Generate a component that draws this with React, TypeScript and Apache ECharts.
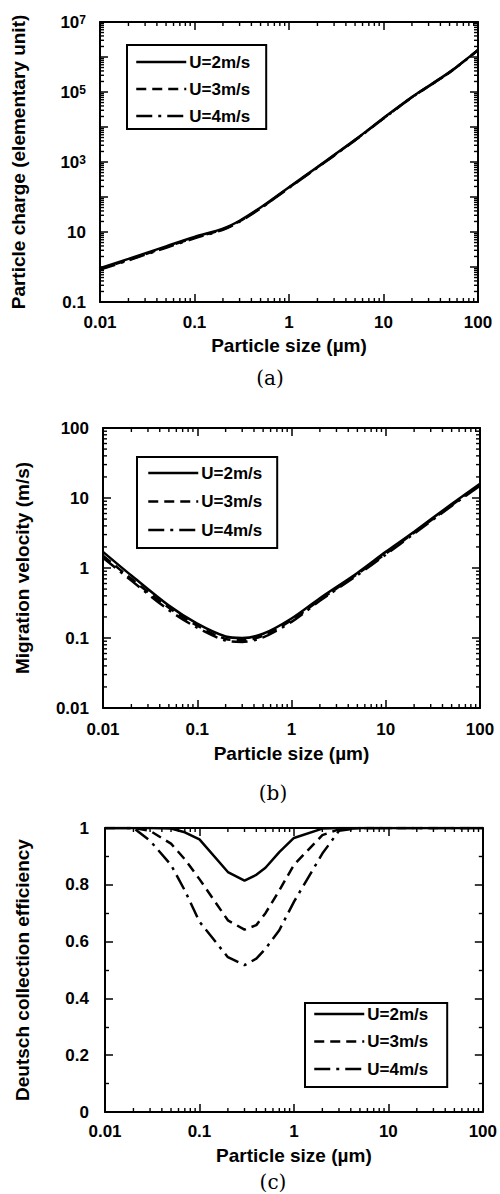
import React, { useEffect, useRef } from 'react';
import * as echarts from 'echarts';

const SERIES_NAMES = ['U=2m/s', 'U=3m/s', 'U=4m/s'];

// (a) particle charge
const sizeA = [0.01, 0.02, 0.05, 0.1, 0.2, 0.3, 0.5, 0.7, 1, 2, 5, 10, 20, 50, 100];
const chargeU2 = [0.93, 1.7, 3.9, 7.2, 12.5, 21, 50, 95, 190, 720, 4300, 18000, 72000, 370000, 1600000];
const chargeU3 = [0.88, 1.6, 3.7, 6.9, 12, 20.3, 48.5, 92, 186, 705, 4220, 17700, 71000, 365000, 1580000];
const chargeU4 = [0.84, 1.55, 3.55, 6.6, 11.6, 19.7, 47, 90, 182, 690, 4150, 17400, 70000, 360000, 1560000];

// (b) migration velocity
const sizeB = [0.01, 0.02, 0.05, 0.1, 0.2, 0.3, 0.5, 1, 2, 5, 10, 20, 50, 100];
const velocityU2 = [1.7, 0.78, 0.29, 0.16, 0.105, 0.1, 0.115, 0.19, 0.37, 0.85, 1.7, 3.3, 8.2, 16];
const velocityU3 = [1.5, 0.7, 0.27, 0.15, 0.097, 0.093, 0.108, 0.18, 0.35, 0.82, 1.6, 3.2, 7.9, 15.5];
const velocityU4 = [1.4, 0.66, 0.25, 0.14, 0.092, 0.088, 0.102, 0.17, 0.34, 0.79, 1.55, 3.1, 7.7, 15];

// (c) Deutsch collection efficiency
const sizeC = [0.01, 0.02, 0.03, 0.05, 0.07, 0.1, 0.2, 0.3, 0.4, 0.5, 0.7, 1, 2, 3, 5, 10, 20, 50, 100];
const effU2 = [1, 1, 1, 0.998, 0.985, 0.96, 0.845, 0.815, 0.835, 0.86, 0.915, 0.965, 0.998, 1, 1, 1, 1, 1, 1];
const effU3 = [1, 1, 0.99, 0.945, 0.89, 0.82, 0.675, 0.642, 0.658, 0.7, 0.78, 0.87, 0.975, 0.995, 1, 1, 1, 1, 1];
const effU4 = [1, 1, 0.955, 0.87, 0.78, 0.67, 0.545, 0.517, 0.54, 0.575, 0.64, 0.74, 0.91, 0.99, 1, 1, 1, 1, 1];

const xTickLabels = ['0.01', '0.1', '1', '10', '100'];
const yTickLabelsB = ['0.01', '0.1', '1', '10', '100'];
const captions = ['(a)', '(b)', '(c)'];

const SANS = '"Liberation Sans", Arial, Helvetica, sans-serif';
const SERIF = '"DejaVu Serif", "Liberation Serif", serif';
const DASHES: any[] = ['solid', [10, 6], [16, 6, 3, 6]];

function minorLogValues(minExp: number, maxExp: number) {
  const out: number[] = [];
  for (let e = minExp; e < maxExp; e++) {
    for (let m = 2; m <= 9; m++) out.push(m * Math.pow(10, e));
  }
  return out;
}

function xMinorSeries(grid: number, vals: number[], yMin: number, yMax: number) {
  return {
    type: 'custom',
    name: 'xminor' + grid,
    xAxisIndex: grid * 2,
    yAxisIndex: grid * 2,
    silent: true,
    clip: false,
    z: 5,
    data: vals.map((v) => [v, yMin]),
    encode: { x: 0, y: 1 },
    renderItem: (params: any, api: any) => {
      const v = api.value(0);
      const b = api.coord([v, yMin]);
      const t = api.coord([v, yMax]);
      const st = { stroke: '#000', lineWidth: 1.4 };
      return {
        type: 'group',
        children: [
          { type: 'line', shape: { x1: b[0], y1: b[1], x2: b[0], y2: b[1] - 4 }, style: st },
          { type: 'line', shape: { x1: t[0], y1: t[1], x2: t[0], y2: t[1] + 4 }, style: st },
        ],
      };
    },
  };
}

function yMinorSeries(grid: number, vals: number[], xMin: number, xMax: number) {
  return {
    type: 'custom',
    name: 'yminor' + grid,
    xAxisIndex: grid * 2,
    yAxisIndex: grid * 2,
    silent: true,
    clip: false,
    z: 5,
    data: vals.map((v) => [xMin, v]),
    encode: { x: 0, y: 1 },
    renderItem: (params: any, api: any) => {
      const v = api.value(1);
      const l = api.coord([xMin, v]);
      const r = api.coord([xMax, v]);
      const st = { stroke: '#000', lineWidth: 1.4 };
      return {
        type: 'group',
        children: [
          { type: 'line', shape: { x1: l[0], y1: l[1], x2: l[0] + 4, y2: l[1] }, style: st },
          { type: 'line', shape: { x1: r[0], y1: r[1], x2: r[0] - 4, y2: r[1] }, style: st },
        ],
      };
    },
  };
}

const grids = [
  { left: 100, top: 22, width: 378, height: 280 },
  { left: 103, top: 428, width: 377, height: 280 },
  { left: 105, top: 828, width: 378, height: 284 },
];

const labelStyle = { color: '#000', fontFamily: SANS, fontWeight: 'bold' as const, fontSize: 17 };
const nameStyle = { color: '#000', fontFamily: SANS, fontWeight: 'bold' as const, fontSize: 19 };

function xAxes(grid: number, nameGap: number, labelMargin: number) {
  const base = {
    type: 'log',
    gridIndex: grid,
    min: 0.01,
    max: 100,
    logBase: 10,
    splitLine: { show: false },
    axisLine: { show: true, onZero: false, lineStyle: { color: '#000', width: 2 } },
    axisTick: { show: true, inside: true, length: 8, lineStyle: { color: '#000', width: 1.5 } },
  };
  return [
    {
      ...base,
      position: 'bottom',
      name: 'Particle size (µm)',
      nameLocation: 'middle',
      nameGap,
      nameTextStyle: nameStyle,
      axisLabel: {
        ...labelStyle,
        margin: labelMargin,
        showMinLabel: true,
        showMaxLabel: true,
        formatter: (v: number) => xTickLabels[Math.round(Math.log10(v)) + 2] ?? '',
      },
    },
    { ...base, position: 'top', axisLabel: { show: false } },
  ];
}

function yAxesLog(grid: number, min: number, max: number, name: string, nameGap: number, formatter: any) {
  const base = {
    type: 'log',
    gridIndex: grid,
    min,
    max,
    logBase: 10,
    splitLine: { show: false },
    axisLine: { show: true, onZero: false, lineStyle: { color: '#000', width: 2 } },
    axisTick: { show: true, inside: true, length: 8, lineStyle: { color: '#000', width: 1.5 } },
  };
  return [
    {
      ...base,
      position: 'left',
      name,
      nameLocation: 'middle',
      nameGap,
      nameTextStyle: nameStyle,
      axisLabel: {
        ...labelStyle,
        margin: 14,
        showMinLabel: true,
        showMaxLabel: true,
        formatter,
        rich: {
          sup: { fontFamily: SANS, fontWeight: 'bold', fontSize: 12, color: '#000', verticalAlign: 'top', lineHeight: 12 },
        },
      },
    },
    { ...base, position: 'right', axisLabel: { show: false } },
  ];
}

function lineSeries(grid: number, xs: number[], ys: number[][], smooth: number | boolean) {
  return ys.map((arr, i) => ({
    type: 'line',
    name: SERIES_NAMES[i],
    xAxisIndex: grid * 2,
    yAxisIndex: grid * 2,
    data: xs.map((x, k) => [x, arr[k]]),
    symbol: 'none',
    showSymbol: false,
    smooth,
    z: 3,
    lineStyle: { color: '#000', width: 2.5, type: DASHES[i] },
    itemStyle: { color: '#000' },
  }));
}

function legend(left: number, top: number, padding: number[], itemGap: number) {
  return {
    orient: 'vertical',
    left,
    top,
    padding,
    itemGap,
    itemWidth: 50,
    itemHeight: 14,
    selectedMode: false,
    backgroundColor: '#fff',
    borderColor: '#000',
    borderWidth: 2,
    borderRadius: 0,
    data: SERIES_NAMES,
    itemStyle: { opacity: 0, borderWidth: 0 },
    lineStyle: { width: 2.5 },
    textStyle: { color: '#000', fontFamily: SANS, fontWeight: 'bold', fontSize: 17, lineHeight: 18, padding: [0, 0, 0, -2] },
  };
}

export default function App() {
  const ref = useRef<HTMLDivElement>(null);

  useEffect(() => {
    if (!ref.current) return;
    const chart = echarts.init(ref.current, null, { renderer: 'svg' });

    const fmtA = (v: number) => {
      const e = Math.round(Math.log10(v));
      if (Math.abs(e) % 2 === 0) return '';
      if (e === -1) return '0.1';
      if (e === 1) return '10';
      return '10{sup|' + e + '}';
    };
    const fmtB = (v: number) => yTickLabelsB[Math.round(Math.log10(v)) + 2] ?? '';

    const yC = {
      type: 'value',
      gridIndex: 2,
      min: 0,
      max: 1,
      interval: 0.2,
      splitLine: { show: false },
      axisLine: { show: true, onZero: false, lineStyle: { color: '#000', width: 2 } },
      axisTick: { show: true, inside: true, length: 8, lineStyle: { color: '#000', width: 1.5 } },
      minorTick: { show: true, splitNumber: 2, length: 4, lineStyle: { color: '#000', width: 1.4 } },
      minorSplitLine: { show: false },
    };

    const capStyle = (t: string) => ({
      text: t,
      font: '20px ' + SERIF,
      fill: '#000',
      textAlign: 'center',
      textVerticalAlign: 'middle',
    });

    const option: any = {
      animation: false,
      backgroundColor: '#fff',
      grid: grids.map((g) => ({ ...g, containLabel: false })),
      xAxis: [...xAxes(0, 34, 12), ...xAxes(1, 36, 13), ...xAxes(2, 34, 11)],
      yAxis: [
        ...yAxesLog(0, 0.1, 1e7, 'Particle charge (elementary unit)', 72, fmtA),
        ...yAxesLog(1, 0.01, 100, 'Migration velocity (m/s)', 71, fmtB),
        {
          ...yC,
          position: 'left',
          name: 'Deutsch collection efficiency',
          nameLocation: 'middle',
          nameGap: 73,
          nameTextStyle: nameStyle,
          axisLabel: {
            ...labelStyle,
            margin: 16,
            formatter: (v: number) => (v === 0 ? '0' : v === 1 ? '1' : v.toFixed(1)),
          },
        },
        { ...yC, position: 'right', axisLabel: { show: false } },
      ],
      legend: [
        legend(127, 45, [8, 16, 4, 8], 9),
        legend(137, 457, [7, 15, 9, 10], 10.5),
        legend(305, 1003, [2, 19, 9, 8], 9.5),
      ],
      series: [
        ...lineSeries(0, sizeA, [chargeU2, chargeU3, chargeU4], 0.3),
        ...lineSeries(1, sizeB, [velocityU2, velocityU3, velocityU4], 0.3),
        ...lineSeries(2, sizeC, [effU2, effU3, effU4], false),
        xMinorSeries(0, minorLogValues(-2, 2), 0.1, 1e7),
        yMinorSeries(0, minorLogValues(-1, 7), 0.01, 100),
        xMinorSeries(1, minorLogValues(-2, 2), 0.01, 100),
        yMinorSeries(1, minorLogValues(-2, 2), 0.01, 100),
        xMinorSeries(2, minorLogValues(-2, 2), 0, 1),
      ],
      graphic: [
        { type: 'text', x: 270, y: 378, style: capStyle(captions[0]) },
        { type: 'text', x: 273, y: 793, style: capStyle(captions[1]) },
        { type: 'text', x: 273, y: 1182, style: capStyle(captions[2]) },
      ],
    };

    chart.setOption(option);
    return () => chart.dispose();
  }, []);

  return (
    <div
      ref={ref}
      style={{ position: 'absolute', left: 0, top: 0, width: 500, height: 1194, background: '#fff' }}
    />
  );
}
